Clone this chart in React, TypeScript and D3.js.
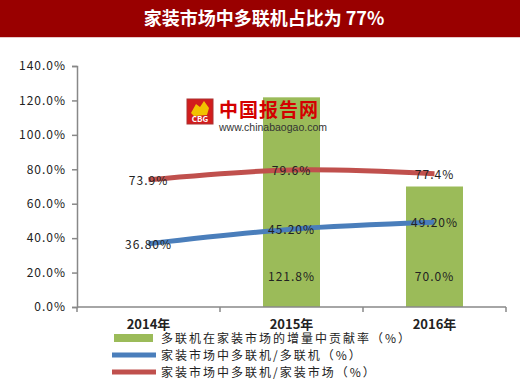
import React, { useEffect, useRef } from "react";
import * as d3 from "d3";

const years = ["2014年", "2015年", "2016年"];
const contribution = [null, 121.8, 70.0];
const multiShare = [36.8, 45.2, 49.2];
const homeShare = [73.9, 79.6, 77.4];
const yTicks = [0, 20, 40, 60, 80, 100, 120, 140];
const legendLabels = [
  "多联机在家装市场的增量中贡献率（%）",
  "家装市场中多联机/多联机（%）",
  "家装市场中多联机/家装市场（%）",
];

const GREEN = "#9bbb59";
const BLUE = "#4a7ebb";
const RED = "#c0504d";
const FONT = "'Noto Sans CJK SC', 'DejaVu Sans', sans-serif";

const App = () => {
  const svgRef = useRef<SVGSVGElement | null>(null);

  useEffect(() => {
    const svg = d3.select(svgRef.current);
    svg.selectAll("*").remove();

    const left = 77;
    const right = 506;
    const top = 66;
    const bottom = 307;

    const x = d3.scaleBand().domain(years).range([left, right]);
    const y = d3.scaleLinear().domain([0, 140]).range([bottom, top]);
    const cx = (d: string) => (x(d) as number) + x.bandwidth() / 2;

    // title bar
    svg.append("rect").attr("x", 0).attr("y", 0).attr("width", 520).attr("height", 37).attr("fill", "#990000");
    svg.append("rect").attr("x", 0).attr("y", 37).attr("width", 520).attr("height", 1).attr("fill", "#e8c8c8");
    svg
      .append("text")
      .attr("x", 264)
      .attr("y", 25)
      .attr("text-anchor", "middle")
      .attr("fill", "#fff")
      .attr("font-family", FONT)
      .attr("font-weight", "bold")
      .attr("font-size", 18)
      .text("家装市场中多联机占比为 77%");

    // y axis
    const yAxis = svg
      .append("g")
      .attr("transform", `translate(${left},0)`)
      .call(
        d3
          .axisLeft(y)
          .tickValues(yTicks)
          .tickSize(5)
          .tickPadding(6)
          .tickFormat((d) => `${(+d).toFixed(1)}%`)
      );
    yAxis.select(".domain").attr("stroke", "#888").attr("stroke-width", 1.5);
    yAxis.selectAll(".tick line").attr("stroke", "#888").attr("stroke-width", 1.5);
    yAxis
      .selectAll(".tick text")
      .attr("fill", "#222")
      .attr("font-family", FONT)
      .attr("font-size", 12)
      .attr("letter-spacing", 1);

    // bars
    const barW = 57;
    const bars = years
      .map((yr, i) => ({ yr, v: contribution[i] }))
      .filter((d) => d.v !== null) as { yr: string; v: number }[];
    svg
      .selectAll(".bar")
      .data(bars)
      .enter()
      .append("rect")
      .attr("x", (d) => cx(d.yr) - barW / 2)
      .attr("y", (d) => y(d.v))
      .attr("width", barW)
      .attr("height", (d) => bottom - y(d.v))
      .attr("fill", GREEN);

    // x axis
    const xAxisG = svg.append("g").attr("transform", `translate(0,${bottom})`);
    xAxisG
      .append("line")
      .attr("x1", left)
      .attr("x2", right)
      .attr("stroke", "#888")
      .attr("stroke-width", 1.5);
    [left, ...years.map((d) => (x(d) as number) + x.bandwidth())].forEach((tx) => {
      xAxisG.append("line").attr("x1", tx).attr("x2", tx).attr("y1", 0).attr("y2", 5).attr("stroke", "#888").attr("stroke-width", 1.5);
    });
    xAxisG
      .selectAll(".xl")
      .data(years)
      .enter()
      .append("text")
      .attr("x", (d) => cx(d))
      .attr("y", 22)
      .attr("text-anchor", "middle")
      .attr("fill", "#222")
      .attr("font-family", FONT)
      .attr("font-weight", "bold")
      .attr("font-size", 13)
      .text((d) => d);

    // lines
    const line = d3
      .line<number>()
      .x((_, i) => cx(years[i]))
      .y((d) => y(d))
      .curve(d3.curveCatmullRom);
    [
      { vals: homeShare, color: RED },
      { vals: multiShare, color: BLUE },
    ].forEach((s) => {
      svg
        .append("path")
        .attr("d", line(s.vals))
        .attr("fill", "none")
        .attr("stroke", s.color)
        .attr("stroke-width", 5);
    });

    // watermark
    const wm = svg.append("g");
    wm.append("rect").attr("x", 187).attr("y", 99).attr("width", 26).attr("height", 25).attr("fill", "#d21d1d").attr("stroke", "#a33").attr("stroke-width", 1);
    wm.append("path").attr("d", "M191,113 L196,104 L200,107 L204,101 L209,108 L207,115 L194,116 Z").attr("fill", "#f2c200");
    wm.append("text").attr("x", 200).attr("y", 122).attr("text-anchor", "middle").attr("fill", "#fff").attr("font-family", FONT).attr("font-weight", "bold").attr("font-size", 8).text("CBG");
    wm.append("text").attr("x", 219).attr("y", 117).attr("fill", "#d40000").attr("font-family", FONT).attr("font-weight", "bold").attr("font-size", 19).attr("letter-spacing", 1).text("中国报告网");
    wm.append("text").attr("x", 219).attr("y", 131).attr("fill", "#333").attr("font-family", "'Liberation Sans', Arial, sans-serif").attr("font-size", 10.5).text("www.chinabaogao.com");

    // data labels
    const labelStyle = (sel: any) =>
      sel
        .attr("text-anchor", "middle")
        .attr("fill", "#222")
        .attr("font-family", FONT)
        .attr("font-size", 12)
        .attr("letter-spacing", 1);
    svg
      .selectAll(".bl")
      .data(bars)
      .enter()
      .append("text")
      .attr("x", (d) => cx(d.yr))
      .attr("y", bottom - 26)
      .call(labelStyle)
      .text((d) => `${d.v.toFixed(1)}%`);
    svg
      .selectAll(".rl")
      .data(homeShare)
      .enter()
      .append("text")
      .attr("x", (_, i) => cx(years[i]))
      .attr("y", (d) => y(d) + 5)
      .call(labelStyle)
      .text((d) => `${d.toFixed(1)}%`);
    svg
      .selectAll(".ul")
      .data(multiShare)
      .enter()
      .append("text")
      .attr("x", (_, i) => cx(years[i]))
      .attr("y", (d) => y(d) + 5)
      .call(labelStyle)
      .text((d) => `${d.toFixed(2)}%`);

    // legend
    const lg = svg.append("g");
    const rows = [338, 355, 372];
    lg.append("rect").attr("x", 114).attr("y", rows[0] - 4).attr("width", 39).attr("height", 8).attr("fill", GREEN);
    lg.append("line").attr("x1", 112).attr("x2", 156).attr("y1", rows[1]).attr("y2", rows[1]).attr("stroke", BLUE).attr("stroke-width", 5);
    lg.append("line").attr("x1", 112).attr("x2", 156).attr("y1", rows[2]).attr("y2", rows[2]).attr("stroke", RED).attr("stroke-width", 5);
    lg.selectAll(".lt")
      .data(legendLabels)
      .enter()
      .append("text")
      .attr("x", 161)
      .attr("y", (_, i) => rows[i] + 4.5)
      .attr("fill", "#222")
      .attr("font-family", FONT)
      .attr("font-size", 12)
      .attr("letter-spacing", 2)
      .text((d) => d);
  }, []);

  return (
    <div style={{ position: "absolute", left: 0, top: 0 }}>
      <svg ref={svgRef} width={520} height={385} style={{ display: "block", background: "#fff" }} />
    </div>
  );
};

export default App;
